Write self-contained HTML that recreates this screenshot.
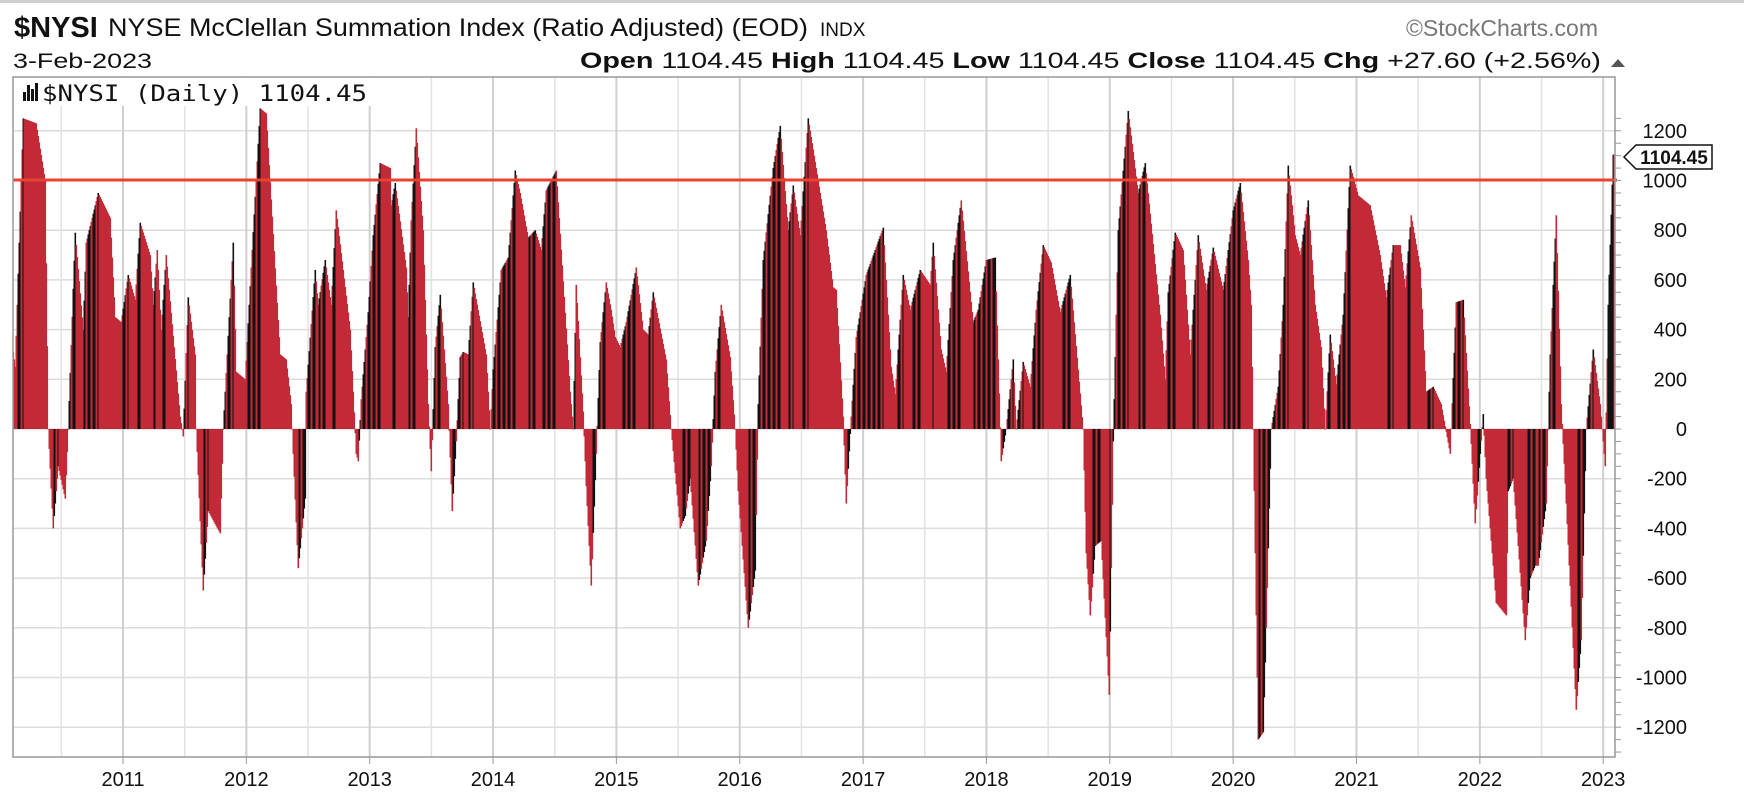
<!DOCTYPE html>
<html><head><meta charset="utf-8"><style>
body{margin:0;background:#fff;width:1744px;height:794px;overflow:hidden;font-family:"Liberation Sans",sans-serif}
svg{position:absolute;left:0;top:0}
</style></head><body>
<svg id="s" width="1744" height="794" xmlns="http://www.w3.org/2000/svg">
<defs><clipPath id="pc"><rect x="13" y="77" width="1602" height="680"/></clipPath></defs>
<rect x="0" y="0" width="1744" height="3" fill="#cfcfcf"/>
<g clip-path="url(#pc)"><g transform="translate(-7,0)">
<g id="grid"></g>
<g id="bars"></g>
</g></g>
<line x1="13" y1="180" x2="1617" y2="180" stroke="#e8432e" stroke-width="3"/>
<rect x="13" y="77" width="1602" height="680" fill="none" stroke="#999" stroke-width="1.5"/>
<g id="axis" font-family="Liberation Sans, sans-serif" font-size="20" fill="#111"></g>
<text x="14" y="37" font-size="29" font-weight="bold" fill="#111">$NYSI</text>
<text x="108" y="36" font-size="25" fill="#111" textLength="700" lengthAdjust="spacingAndGlyphs">NYSE McClellan Summation Index (Ratio Adjusted) (EOD)</text>
<text x="820" y="36" font-size="19" fill="#111">INDX</text>
<text x="1598" y="36" font-size="23" fill="#777" text-anchor="end">©StockCharts.com</text>
<text x="13" y="68" font-size="21" fill="#111" textLength="139" lengthAdjust="spacingAndGlyphs">3-Feb-2023</text>
<text x="580" y="68" font-size="22" fill="#111" textLength="1021" lengthAdjust="spacingAndGlyphs"><tspan font-weight="bold">Open</tspan> 1104.45  <tspan font-weight="bold">High</tspan> 1104.45  <tspan font-weight="bold">Low</tspan> 1104.45  <tspan font-weight="bold">Close</tspan> 1104.45  <tspan font-weight="bold">Chg</tspan> +27.60 (+2.56%)</text>
<polygon points="1611,67 1625,67 1618,59" fill="#555"/>
<rect x="14" y="78" width="358" height="28" fill="#fff"/>
<g fill="#111"><rect x="23" y="92" width="3" height="9"/><rect x="27" y="85" width="3" height="16"/><rect x="31" y="89" width="3" height="12"/><rect x="35" y="83" width="3" height="18"/></g>
<text x="42" y="101" font-family="DejaVu Sans Mono, Liberation Mono, monospace" font-size="22" fill="#111" textLength="325" lengthAdjust="spacingAndGlyphs">$NYSI (Daily) 1104.45</text>
<polygon points="1624,157 1636,145 1712,145 1712,169 1636,169" fill="#fff" stroke="#111" stroke-width="1.5"/>
<text x="1674" y="164" font-size="19" font-weight="bold" fill="#111" text-anchor="middle">1104.45</text>
</svg>
<script>
(function(){
var NS="http://www.w3.org/2000/svg";
function el(t,a,p){var e=document.createElementNS(NS,t);for(var k in a)e.setAttribute(k,a[k]);if(p)p.appendChild(e);return e;}
var y0=429,kk=0.2485;function Y(v){return y0-v*kk;}
var grid=document.getElementById('grid'),axis=document.getElementById('axis'),bars=document.getElementById('bars');
for(var v=-1200;v<=1200;v+=200){var yy=Y(v);el('line',{x1:0,x2:1640,y1:yy,y2:yy,stroke:'#dcdcdc','stroke-width':1.5},grid);
var t=el('text',{x:1687,y:yy+7,'text-anchor':'end'},axis);t.textContent=v;}
for(var v=-1300;v<=1250;v+=50){el('line',{x1:1615,x2:1621,y1:Y(v),y2:Y(v),stroke:'#999','stroke-width':1},axis);}
for(var i=-1;i<=12;i++){var x=130+123.35*i;el('line',{x1:x,x2:x,y1:77,y2:757,stroke:'#cfcfcf','stroke-width':2},grid);
var xm=x+61.7;el('line',{x1:xm,x2:xm,y1:77,y2:757,stroke:'#e2e2e2','stroke-width':1.5},grid);
if(i>=0){el('line',{x1:x-7,x2:x-7,y1:757,y2:764,stroke:'#999'},axis);var t=el('text',{x:x-7,y:786,'text-anchor':'middle','font-size':20},axis);t.textContent=2011+i;}}
var P=[[17,400],[22,250],[30,1250],[43,1230],[52,1000],[55,0],[60,-400],[65,-150],[72,-280],[75,0],[82,790],[90,400],[93,750],[105,950],[117,850],[122,450],[128,430],[135,620],[142,520],[147,830],[157,700],[160,500],[164,720],[168,400],[173,700],[187,50],[190,-30],[195,530],[202,300],[203,0],[210,-650],[215,-330],[227,-420],[230,0],[240,750],[243,230],[252,200],[258,650],[267,1290],[273,1270],[287,300],[293,280],[298,100],[300,-100],[305,-560],[312,-280],[313,150],[322,640],[325,500],[332,680],[338,500],[343,880],[357,400],[363,-100],[365,-130],[368,120],[375,470],[380,780],[387,1070],[397,1050],[398,900],[402,990],[413,650],[415,450],[418,840],[423,1210],[430,800],[435,100],[438,-170],[442,330],[447,540],[455,100],[459,-330],[463,-50],[467,290],[470,310],[475,300],[480,590],[493,300],[497,0],[500,240],[508,640],[515,690],[522,1040],[527,950],[535,770],[542,800],[548,720],[553,960],[563,1040],[577,150],[580,0],[583,580],[590,70],[593,-230],[598,-630],[603,-100],[607,350],[613,590],[618,480],[622,370],[627,330],[633,430],[643,650],[650,400],[655,380],[660,550],[673,280],[678,0],[687,-400],[692,-350],[697,-200],[705,-630],[713,-450],[718,-150],[722,230],[728,500],[737,290],[742,0],[745,-250],[755,-800],[762,-570],[765,100],[770,680],[780,1050],[787,1220],[795,800],[800,980],[807,780],[815,1250],[823,1050],[833,800],[840,570],[843,560],[850,50],[853,-300],[858,50],[863,370],[873,620],[890,810],[898,250],[902,140],[910,620],[917,480],[927,640],[937,580],[940,750],[948,320],[953,230],[960,680],[968,920],[980,430],[985,480],[993,680],[1002,690],[1008,-130],[1013,0],[1020,280],[1023,0],[1030,270],[1037,170],[1043,480],[1050,740],[1058,670],[1067,470],[1077,620],[1090,0],[1093,-500],[1097,-750],[1102,-470],[1108,-450],[1116,-1070],[1120,-50],[1125,800],[1135,1280],[1145,950],[1152,1070],[1167,460],[1172,200],[1175,550],[1182,790],[1190,720],[1197,300],[1205,780],[1213,560],[1220,730],[1230,560],[1240,880],[1247,990],[1255,680],[1258,500],[1260,0],[1265,-1250],[1270,-1220],[1273,-800],[1278,0],[1285,170],[1290,500],[1295,1060],[1302,780],[1307,700],[1315,920],[1322,500],[1328,330],[1332,0],[1337,380],[1343,180],[1350,460],[1357,1060],[1365,940],[1377,900],[1387,700],[1393,530],[1400,740],[1407,740],[1412,570],[1418,860],[1427,650],[1433,150],[1440,170],[1448,100],[1457,-100],[1463,510],[1470,520],[1477,20],[1482,-380],[1487,-100],[1490,60],[1493,-200],[1503,-700],[1513,-750],[1515,-250],[1520,-200],[1532,-850],[1537,-600],[1542,-550],[1545,-550],[1553,-300],[1557,300],[1563,860],[1568,100],[1573,-300],[1583,-1130],[1588,-850],[1593,0],[1600,320],[1607,100],[1612,-150],[1615,500],[1620,1104.45]];
P.sort(function(a,b){return a[0]-b[0];});
function val(x){for(var i=0;i<P.length-1;i++){if(x>=P[i][0]&&x<=P[i+1][0]){var a=P[i],b=P[i+1];var t=b[0]==a[0]?0:(x-a[0])/(b[0]-a[0]);return a[1]+(b[1]-a[1])*t;}}return P[P.length-1][1];}
var prev=val(16);
for(var x=20;x<=1621;x++){var v=val(x);var rising=v>prev+1;var c=(rising&&(x%5<3||x>=1616))?'#111':'#c22a38';var yy=Y(v);var by=Math.min(yy,y0),h=Math.abs(yy-y0);
el('rect',{x:x-0.5,y:by,width:1.6,height:Math.max(h,0.5),fill:c},bars);prev=v;}
})();
</script>
</body></html>
